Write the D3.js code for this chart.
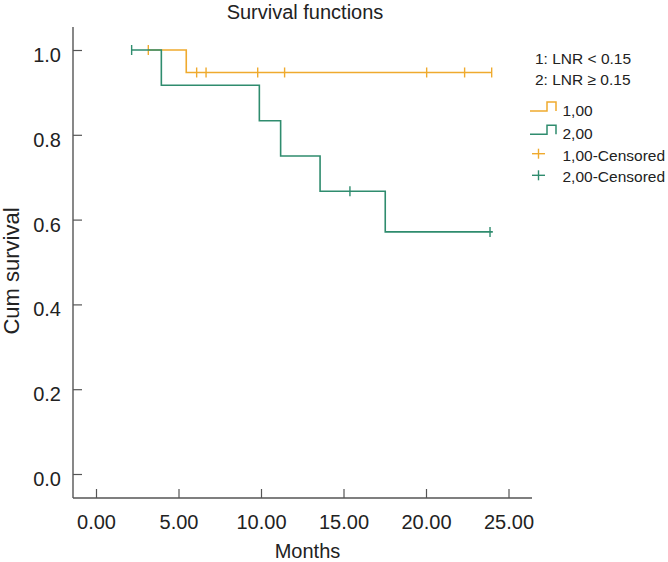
<!DOCTYPE html>
<html>
<head>
<meta charset="utf-8">
<script src="https://cdn.jsdelivr.net/npm/d3@7"></script>
<style>
  html, body { margin: 0; padding: 0; background: #fff; }
  svg { display: block; font-family: "Liberation Sans", Arial, sans-serif; }
</style>
</head>
<body>
<svg id="chart" width="668" height="562"></svg>
<script>
// ---- data ----
const title = "Survival functions";
const xLabel = "Months";
const yLabel = "Cum survival";
const xTicks = [0, 5, 10, 15, 20, 25];
const yTicks = [0, 0.2, 0.4, 0.6, 0.8, 1.0];

// Group 1 (LNR < 0.15)
const g1StepTimes = [3.17, 5.47];
const g1StepSurv = [1.0, 0.947];
const g1End = 23.98;
const g1CensorTimes = [3.17, 6.10, 6.67, 9.80, 11.43, 20.04, 22.34, 23.98];

// Group 2 (LNR >= 0.15)
const g2StepTimes = [2.16, 3.96, 9.90, 11.19, 13.58, 17.53];
const g2StepSurv = [1.0, 0.917, 0.833, 0.75, 0.667, 0.571];
const g2End = 24.05;
const g2CensorTimes = [2.16, 15.39, 23.88];

const noteLabels = ["1: LNR < 0.15", "2: LNR \u2265 0.15"];
const legendLabels = ["1,00", "2,00", "1,00-Censored", "2,00-Censored"];
const colors = ["#EFAA2E", "#2F8C6E"];

// ---- layout ----
const svg = d3.select("#chart");
const x = d3.scaleLinear().domain([0, 25]).range([96, 508.5]);
const y = d3.scaleLinear().domain([0, 1]).range([474, 50]);
const axisX = 73, axisY = 498, axisTop = 27, axisRight = 532;
const axisColor = "#555";

// axes lines
svg.append("line").attr("x1", axisX).attr("x2", axisX).attr("y1", axisTop).attr("y2", axisY)
  .attr("stroke", axisColor).attr("stroke-width", 1.4);
svg.append("line").attr("x1", axisX).attr("x2", axisRight).attr("y1", axisY).attr("y2", axisY)
  .attr("stroke", axisColor).attr("stroke-width", 1.4);

// y axis
const gy = svg.append("g").attr("transform", `translate(${axisX},0)`)
  .call(d3.axisLeft(y).tickValues(yTicks).tickFormat(d3.format(".1f")).tickSizeInner(-9).tickSizeOuter(0).tickPadding(12));
gy.select(".domain").remove();
gy.selectAll(".tick line").attr("stroke", axisColor).attr("stroke-width", 1.2);
gy.selectAll(".tick text").attr("font-size", 20).attr("fill", "#222").attr("dy", 11.5)
  .attr("font-family", "Liberation Sans, Arial, sans-serif");

// x axis
const gx = svg.append("g").attr("transform", `translate(0,${axisY})`)
  .call(d3.axisBottom(x).tickValues(xTicks).tickFormat(d3.format(".2f")).tickSizeInner(-9).tickSizeOuter(0).tickPadding(0));
gx.select(".domain").remove();
gx.selectAll(".tick line").attr("stroke", axisColor).attr("stroke-width", 1.2);
gx.selectAll(".tick text").attr("font-size", 20).attr("fill", "#222").attr("y", 0).attr("dy", 31)
  .attr("font-family", "Liberation Sans, Arial, sans-serif");

// titles
svg.append("text").attr("x", 305).attr("y", 18.5).attr("text-anchor", "middle")
  .attr("font-size", 20).attr("fill", "#222").text(title);
svg.append("text").attr("x", 307.5).attr("y", 557.5).attr("text-anchor", "middle")
  .attr("font-size", 20).attr("fill", "#222").text(xLabel);
svg.append("text").attr("transform", "translate(18.5,271) rotate(-90)").attr("text-anchor", "middle")
  .attr("font-size", 22).attr("fill", "#222").text(yLabel);

// survival curves
function survAt(times, surv, t) {
  let s = surv[0];
  for (let i = 0; i < times.length; i++) if (times[i] <= t) s = surv[i];
  return s;
}
const line = d3.line().x(d => x(d[0])).y(d => y(d[1])).curve(d3.curveStepAfter);

const groups = [
  { times: g1StepTimes, surv: g1StepSurv, end: g1End, censors: g1CensorTimes, color: colors[0] },
  { times: g2StepTimes, surv: g2StepSurv, end: g2End, censors: g2CensorTimes, color: colors[1] }
];

groups.forEach(g => {
  const pts = g.times.map((t, i) => [t, g.surv[i]]);
  pts.push([g.end, g.surv[g.surv.length - 1]]);
  svg.append("path").datum(pts).attr("d", line).attr("fill", "none")
    .attr("stroke", g.color).attr("stroke-width", 1.6);
  svg.selectAll(null).data(g.censors).enter().append("line")
    .attr("x1", d => x(d)).attr("x2", d => x(d))
    .attr("y1", d => y(survAt(g.times, g.surv, d)) - 5)
    .attr("y2", d => y(survAt(g.times, g.surv, d)) + 5)
    .attr("stroke", g.color).attr("stroke-width", 1.4);
});

// legend notes
svg.selectAll(null).data(noteLabels).enter().append("text")
  .attr("x", 535).attr("y", (d, i) => 63.5 + i * 21.5)
  .attr("font-size", 15.5).attr("fill", "#222").text(d => d);

// legend items
const legY = [116, 139.3, 160.7, 182.3];
const lg = svg.append("g");
[0, 1].forEach(i => {
  const b = legY[i] - 5;
  lg.append("path").attr("d", `M530,${b} H547 V${b - 9} H556 V${b}`)
    .attr("fill", "none").attr("stroke", colors[i]).attr("stroke-width", 1.5);
});
[2, 3].forEach((k, i) => {
  const cy = legY[k] - 7;
  lg.append("line").attr("x1", 532).attr("x2", 545).attr("y1", cy).attr("y2", cy)
    .attr("stroke", colors[i]).attr("stroke-width", 1.4);
  lg.append("line").attr("x1", 538.5).attr("x2", 538.5).attr("y1", cy - 5).attr("y2", cy + 5)
    .attr("stroke", colors[i]).attr("stroke-width", 1.4);
});
lg.selectAll("text").data(legendLabels).enter().append("text")
  .attr("x", 562.5).attr("y", (d, i) => legY[i])
  .attr("font-size", 15.5).attr("fill", "#222").text(d => d);
</script>
</body>
</html>
